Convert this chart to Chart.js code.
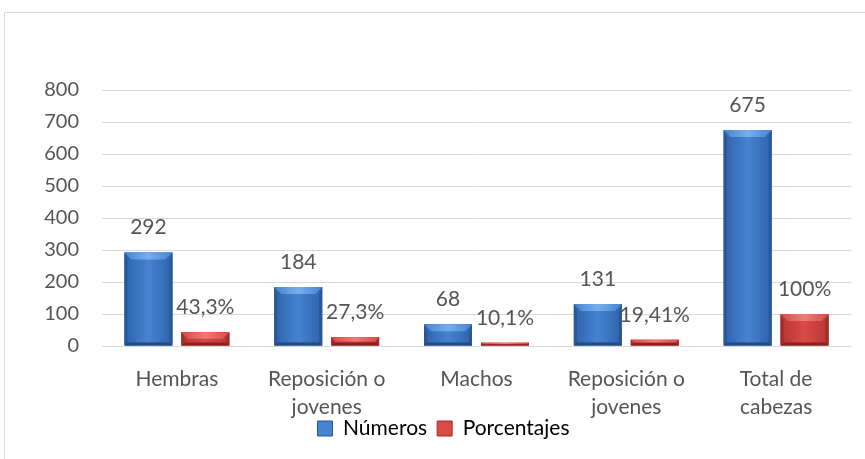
<!DOCTYPE html>
<html>
<head>
<meta charset="utf-8">
<script src="https://cdn.jsdelivr.net/npm/chart.js@4/dist/chart.umd.min.js"></script>
<style>
    html, body { margin: 0; padding: 0; background: #fff; overflow: hidden; }
    #wrap { position: relative; width: 865px; height: 459px; }
    #frame { position: absolute; left: 4px; top: 12px; width: 900px; height: 500px; border: 1px solid #d9d9d9; }
    #chart { position: absolute; left: 0; top: 0; }
</style>
</head>
<body>
<div id="wrap">
    <div id="frame"></div>
    <canvas id="chart" width="865" height="459"></canvas>
</div>
<script>
/* Composición del hato */
const categories = ['Hembras', ['Reposición o', 'jovenes'], 'Machos', ['Reposición o', 'jovenes'], ['Total de', 'cabezas']];
const numeros = [292, 184, 68, 131, 675];
const porcentajes = [43.3, 27.3, 10.1, 19.41, 100];
const porcentajeLabels = ['43,3%', '27,3%', '10,1%', '19,41%', '100%'];
const yTicks = [0, 100, 200, 300, 400, 500, 600, 700, 800];

const FONT = 'Lato, "Open Sans", sans-serif';
const TEXT = '#555555';

const palettes = [
    { mid: '#4683d0', edge: '#2f62ab', top: '#78aeee', side: '#2b5796', bottom: '#234a82' },
    { mid: '#d94a47', edge: '#b53533', top: '#f27b76', side: '#a02c2a', bottom: '#862422' }
];

/* bevel look drawn over each bar */
const bevelPlugin = {
    id: 'bevel',
    afterDatasetsDraw(chart) {
        const ctx = chart.ctx;
        chart.data.datasets.forEach((ds, di) => {
            const p = palettes[di];
            chart.getDatasetMeta(di).data.forEach(bar => {
                const l = bar.x - bar.width / 2, r = bar.x + bar.width / 2;
                const t = bar.y, b = bar.base;
                const h = b - t;
                if (h <= 0) return;
                const g = ctx.createLinearGradient(l, 0, r, 0);
                g.addColorStop(0, p.edge);
                g.addColorStop(0.5, p.mid);
                g.addColorStop(1, p.edge);
                ctx.save();
                ctx.fillStyle = g;
                ctx.fillRect(l, t, r - l, h);
                const dt = Math.min(7, h / 2), ds2 = Math.min(3, h / 2), db = Math.min(3, h / 2);
                const poly = (pts, c) => {
                    ctx.beginPath();
                    ctx.moveTo(pts[0][0], pts[0][1]);
                    pts.slice(1).forEach(q => ctx.lineTo(q[0], q[1]));
                    ctx.closePath();
                    ctx.fillStyle = c;
                    ctx.fill();
                };
                const tg = ctx.createLinearGradient(l, 0, r, 0);
                tg.addColorStop(0, p.mid);
                tg.addColorStop(0.5, p.top);
                tg.addColorStop(1, p.mid);
                poly([[l, t], [r, t], [r - dt, t + dt], [l + dt, t + dt]], tg);
                poly([[l, t], [l + ds2, t + dt], [l + ds2, b - db], [l, b]], p.side);
                poly([[r, t], [r - ds2, t + dt], [r - ds2, b - db], [r, b]], p.side);
                poly([[l, b], [l + ds2, b - db], [r - ds2, b - db], [r, b]], p.bottom);
                ctx.restore();
            });
        });
    }
};

/* value labels above bars */
const labelPlugin = {
    id: 'valueLabels',
    afterDatasetsDraw(chart) {
        const ctx = chart.ctx;
        ctx.save();
        ctx.font = '21px ' + FONT;
        ctx.fillStyle = TEXT;
        ctx.textAlign = 'center';
        ctx.textBaseline = 'middle';
        chart.data.datasets.forEach((ds, di) => {
            chart.getDatasetMeta(di).data.forEach((bar, i) => {
                const txt = di === 0 ? String(numeros[i]) : porcentajeLabels[i];
                ctx.fillText(txt, bar.x, bar.y - 25);
            });
        });
        ctx.restore();
    }
};

/* legend sits close under the category labels, as in the original */
const legendShift = {
    id: 'legendShift',
    afterLayout(chart) {
        chart.legend.top -= 10;
        chart.legend.bottom -= 10;
    }
};

new Chart(document.getElementById('chart'), {
    type: 'bar',
    data: {
        labels: categories,
        datasets: [
            { label: 'Números', data: numeros, backgroundColor: palettes[0].mid },
            { label: 'Porcentajes', data: porcentajes, backgroundColor: palettes[1].mid }
        ]
    },
    options: {
        responsive: false,
        animation: false,
        categoryPercentage: 0.76,
        barPercentage: 0.842,
        layout: { padding: { left: 36, right: 14, top: 90, bottom: 0 } },
        plugins: {
            tooltip: { enabled: false },
            legend: {
                position: 'bottom',
                labels: {
                    color: TEXT,
                    font: { family: FONT, size: 21 },
                    boxWidth: 15,
                    boxHeight: 15,
                    padding: 10,
                    generateLabels: chart => chart.data.datasets.map((ds, i) => ({
                        text: ds.label,
                        fillStyle: palettes[i].mid,
                        strokeStyle: palettes[i].side,
                        lineWidth: 1,
                        datasetIndex: i
                    }))
                }
            }
        },
        scales: {
            x: {
                grid: { display: false },
                border: { display: false },
                ticks: {
                    color: TEXT,
                    font: { family: FONT, size: 21, lineHeight: 1.3 },
                    padding: 12,
                    maxRotation: 0,
                    autoSkip: false
                },
                afterFit: s => { s.height = 72; }
            },
            y: {
                min: 0,
                max: 800,
                afterBuildTicks: s => { s.ticks = yTicks.map(v => ({ value: v })); },
                grid: { color: '#d9d9d9', lineWidth: 1, drawTicks: false },
                border: { display: false },
                ticks: {
                    color: TEXT,
                    font: { family: FONT, size: 20 },
                    padding: 23
                },
                afterFit: s => { s.width = 66; }
            }
        }
    },
    plugins: [bevelPlugin, labelPlugin, legendShift]
});
</script>
</body>
</html>
